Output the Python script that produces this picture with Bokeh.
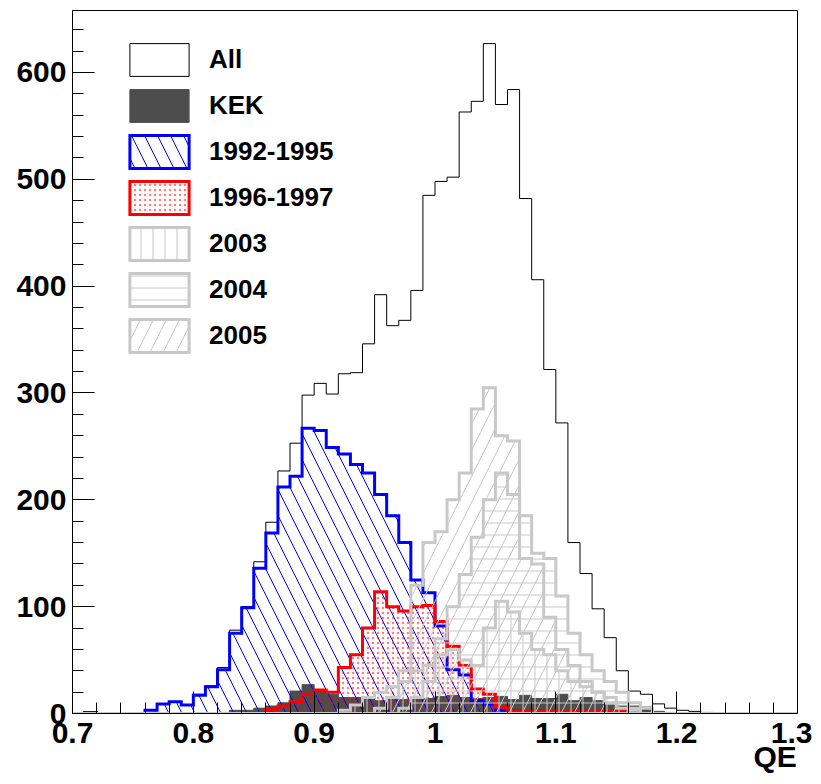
import numpy as np
from bokeh.plotting import figure
from bokeh.models import FixedTicker, Legend, LegendItem, LinearAxis, Range1d
from bokeh.embed import file_html
from bokeh.resources import INLINE

# ---------------- data (bins of 0.01 from 0.70 to 1.30) ----------------
bin_lo = 0.70
bin_width = 0.01
n_bins = 60

all_counts = [0, 1, 0, 0, 0, 0, 3, 9, 11, 8,
              18, 26, 43, 78, 100, 142, 179, 227, 253, 298,
              309, 299, 318, 319, 346, 392, 363, 368, 396, 485,
              498, 502, 563, 573, 627, 570, 584, 482, 406, 322,
              272, 160, 131, 98, 71, 40, 21, 18, 9, 5,
              3, 2, 1, 0, 0, 0, 0, 0, 0, 0]

kek_counts = [0, 0, 0, 0, 0, 0, 0, 0, 0, 0,
              0, 0, 1, 3, 3, 5, 7, 10, 21, 27,
              22, 18, 15, 15, 15, 12, 14, 13, 16, 14,
              16, 17, 15, 14, 15, 16, 13, 17, 14, 14,
              18, 12, 15, 12, 8, 7, 7, 6, 2, 1,
              0, 0, 0, 0, 0, 0, 0, 0, 0, 0]

y9295_counts = [0, 1, 0, 0, 0, 0, 3, 9, 11, 8,
                17, 25, 41, 75, 99, 136, 169, 212, 222, 267,
                265, 249, 243, 233, 225, 205, 185, 160, 125, 113,
                82, 41, 36, 12, 9, 3, 2, 1, 2, 1,
                0, 0, 0, 0, 0, 0, 0, 0, 0, 0,
                0, 0, 0, 0, 0, 0, 0, 0, 0, 0]

y9697_counts = [0, 0, 0, 0, 0, 0, 0, 0, 0, 0,
                0, 0, 0, 0, 0, 0, 4, 7, 11, 18,
                22, 20, 43, 55, 80, 114, 100, 96, 100, 101,
                86, 63, 45, 23, 18, 6, 2, 2, 2, 2,
                2, 2, 2, 2, 2, 2, 0, 0, 0, 0,
                0, 0, 0, 0, 0, 0, 0, 0, 0, 0]

y2003_counts = [0, 0, 0, 0, 0, 0, 0, 0, 0, 0,
                0, 0, 0, 0, 0, 0, 0, 0, 0, 0,
                0, 0, 3, 8, 15, 20, 25, 30, 40, 45,
                55, 60, 50, 45, 80, 105, 95, 75, 60, 55,
                40, 30, 25, 20, 15, 10, 5, 0, 0, 0,
                0, 0, 0, 0, 0, 0, 0, 0, 0, 0]

y2004_counts = [0, 0, 0, 0, 0, 0, 0, 0, 0, 0,
                0, 0, 0, 0, 0, 0, 0, 0, 0, 0,
                0, 0, 0, 0, 0, 0, 0, 5, 15, 30,
                70, 100, 130, 165, 200, 225, 205, 185, 150, 145,
                110, 75, 55, 40, 30, 20, 10, 5, 0, 0,
                0, 0, 0, 0, 0, 0, 0, 0, 0, 0]

y2005_counts = [0, 0, 0, 0, 0, 0, 0, 0, 0, 0,
                0, 0, 0, 0, 0, 0, 0, 0, 0, 0,
                0, 0, 0, 0, 0, 5, 15, 40, 120, 160,
                170, 200, 225, 285, 305, 260, 255, 145, 140, 90,
                60, 45, 30, 20, 10, 5, 3, 0, 0, 0,
                0, 0, 0, 0, 0, 0, 0, 0, 0, 0]

series_labels = ["All", "KEK", "1992-1995", "1996-1997", "2003", "2004", "2005"]

x_ticks = [0.7, 0.8, 0.9, 1.0, 1.1, 1.2, 1.3]
x_tick_labels = ["0.7", "0.8", "0.9", "1", "1.1", "1.2", "1.3"]
x_minor = [0.72, 0.74, 0.76, 0.78, 0.82, 0.84, 0.86, 0.88, 0.92, 0.94, 0.96, 0.98,
           1.02, 1.04, 1.06, 1.08, 1.12, 1.14, 1.16, 1.18, 1.22, 1.24, 1.26, 1.28]
y_ticks = [0, 100, 200, 300, 400, 500, 600]
y_minor = [v for v in range(0, 660, 20) if v % 100 != 0]
x_title = "QE"
x_title_center = 1.2815   # title is right-aligned with the end of the axis

edges = np.round(bin_lo + bin_width * np.arange(n_bins + 1), 4)


def step_poly(counts):
    xs = [edges[0]]
    ys = [0]
    for i, c in enumerate(counts):
        xs += [edges[i], edges[i + 1]]
        ys += [c, c]
    xs.append(edges[-1])
    ys.append(0)
    return xs, ys


FONT = "Liberation Sans"

p = figure(width=812, height=784, output_backend="svg", toolbar_location=None,
           x_range=Range1d(0.7, 1.3), y_range=Range1d(0, 658),
           min_border_left=72, min_border_right=15, min_border_top=10, min_border_bottom=71)
p.background_fill_color = "white"
p.border_fill_color = "white"
p.outline_line_color = "black"
p.outline_line_width = 1
p.xgrid.visible = False
p.ygrid.visible = False

GRAY = "#c8c8c8"

styles = [
    (all_counts, dict(fill_alpha=0, line_color="black", line_width=1)),
    (kek_counts, dict(fill_color="#4d4d4d", fill_alpha=1, line_color="#4d4d4d", line_width=1)),
    (y9295_counts, dict(fill_alpha=0, hatch_pattern="\\", hatch_color="#0000ff",
                        hatch_scale=26, hatch_weight=1, line_color="#0000ff", line_width=3)),
    (y9697_counts, dict(fill_alpha=0, hatch_pattern=".", hatch_color="#ff0000", hatch_alpha=0.5,
                        hatch_scale=5, hatch_weight=1, line_color="#ff0000", line_width=3)),
    (y2003_counts, dict(fill_alpha=0, hatch_pattern="|", hatch_color=GRAY,
                        hatch_scale=12, hatch_weight=1, line_color=GRAY, line_width=3)),
    (y2004_counts, dict(fill_alpha=0, hatch_pattern="-", hatch_color=GRAY,
                        hatch_scale=12, hatch_weight=1, line_color=GRAY, line_width=3)),
    (y2005_counts, dict(fill_alpha=0, hatch_pattern="/", hatch_color=GRAY,
                        hatch_scale=26, hatch_weight=1, line_color=GRAY, line_width=3)),
]

renderers = []
for counts, st in styles:
    xs, ys = step_poly(counts)
    r = p.patch(xs, ys, line_join="miter", **st)
    renderers.append(r)

# axes
for ax in (p.xaxis[0], p.yaxis[0]):
    ax.axis_line_color = "black"
    ax.major_tick_line_color = "black"
    ax.minor_tick_line_color = "black"
    ax.major_tick_in = 22
    ax.major_tick_out = 0
    ax.minor_tick_in = 11
    ax.minor_tick_out = 0
    ax.major_label_text_font = FONT
    ax.major_label_text_font_style = "bold"
    ax.major_label_text_font_size = "30px"
    ax.major_label_text_color = "black"

p.xaxis[0].ticker = FixedTicker(ticks=x_ticks, minor_ticks=x_minor)
p.xaxis[0].major_label_overrides = {t: l for t, l in zip(x_ticks, x_tick_labels)}
p.xaxis[0].major_label_standoff = 9
p.yaxis[0].ticker = FixedTicker(ticks=y_ticks, minor_ticks=y_minor)
p.yaxis[0].major_label_standoff = 6

# axis title "QE" at the right end, below the tick labels (an extra label-only axis)
title_axis = LinearAxis(ticker=FixedTicker(ticks=[x_title_center], minor_ticks=[]),
                        major_label_overrides={x_title_center: x_title},
                        axis_line_color=None, major_tick_line_color=None,
                        minor_tick_line_color=None,
                        major_tick_in=0, major_tick_out=0, minor_tick_in=0, minor_tick_out=0,
                        major_label_standoff=-6,
                        major_label_text_font=FONT, major_label_text_font_style="bold",
                        major_label_text_font_size="30px", major_label_text_color="black")
p.add_layout(title_axis, "below")

items = [LegendItem(label=lab, renderers=[r]) for lab, r in zip(series_labels, renderers)]
legend = Legend(items=items, location=(50, 357), orientation="vertical",
                glyph_width=74, glyph_height=41, spacing=5, label_standoff=13,
                padding=0, margin=0, border_line_alpha=0, background_fill_alpha=0,
                label_text_font=FONT, label_text_font_style="bold",
                label_text_font_size="26px", label_text_color="black")
p.add_layout(legend, "center")

open("out.html", "w").write(file_html(p, INLINE))
